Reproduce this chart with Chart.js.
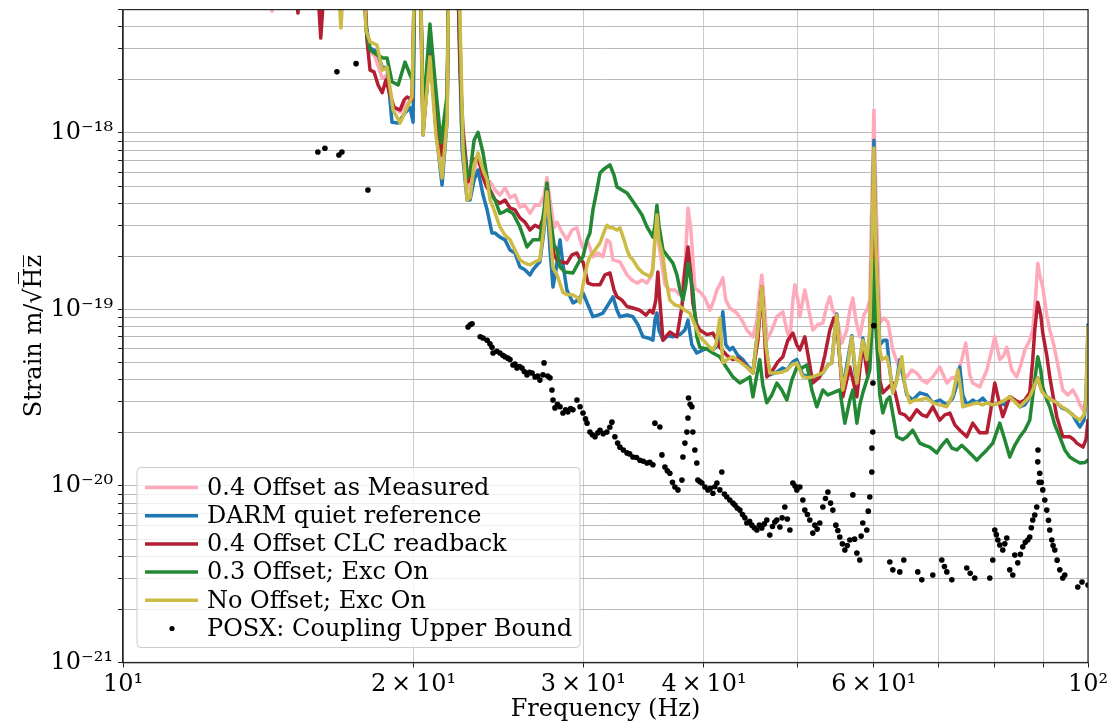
<!DOCTYPE html>
<html>
<head>
<meta charset="utf-8">
<title>POSX coupling upper bound</title>
<script src="https://cdn.jsdelivr.net/npm/chart.js@4.4.1/dist/chart.umd.min.js"></script>
<style>
  html, body { margin: 0; padding: 0; background: #fff; }
  #wrap { width: 1116px; height: 725px; }
</style>
</head>
<body>
<div id="wrap"><canvas id="asdChart" width="1116" height="725"></canvas></div>
<script>
// ASD curves: [frequency Hz, strain m/rtHz]
// values above the top of the plot (1.2e-17) are the parts that run off the chart
const measured04 = [
  [10,1.2e-17],[14.07,1.2e-17],[14.27,4.9e-18],[14.47,1.2e-17],[17.69,1.2e-17],
  [17.94,3.0e-18],[18.25,2.7e-18],[18.56,2.05e-18],[18.78,2.13e-18],[19.05,1.44e-18],[19.37,1.31e-18],
  [19.70,1.48e-18],[19.93,1.54e-18],[20.08,1.2e-17],[20.27,1.2e-17],[20.46,1.01e-18],[20.80,2.77e-18],
  [21.10,1.18e-18],[21.41,6.3e-19],[21.67,1.35e-18],[21.77,1.2e-17],[22.19,1.2e-17],[22.40,1.18e-18],
  [22.78,4.8e-19],[23.33,7.2e-19],[23.84,5.2e-19],[24.01,5.3e-19],[24.30,4.75e-19],[24.58,4.45e-19],
  [24.88,4.9e-19],[25.18,4.3e-19],[25.48,4.45e-19],[25.78,3.8e-19],[26.09,3.9e-19],[26.41,3.5e-19],
  [26.73,3.9e-19],[27.04,3.9e-19],[27.31,4.45e-19],[27.50,5.6e-19],[27.70,4.17e-19],[27.97,2.9e-19],
  [28.17,3.13e-19],[28.50,2.75e-19],[28.84,2.48e-19],[29.19,2.82e-19],[29.54,2.9e-19],[29.76,2.48e-19],
  [29.97,2.23e-19],[30.33,2.41e-19],[30.69,1.99e-19],[31.06,2.09e-19],[31.43,1.99e-19],[31.73,2.48e-19],
  [31.96,2.41e-19],[32.19,1.91e-19],[32.73,1.86e-19],[33.29,1.57e-19],[33.68,1.47e-19],[34.08,1.41e-19],
  [34.50,1.47e-19],[34.91,1.41e-19],[35.33,1.57e-19],[35.58,2.48e-19],[35.75,3.43e-19],[35.92,2.32e-19],
  [36.44,1.38e-19],[36.87,1.29e-19],[37.32,1.29e-19],[37.77,1.21e-19],[38.22,1.68e-19],[38.50,3.76e-19],
  [38.77,2.82e-19],[39.14,1.32e-19],[39.61,1.26e-19],[40.09,1.16e-19],[40.57,9.9e-20],[40.96,1.13e-19],
  [41.25,1.29e-19],[41.54,1.38e-19],[41.84,1.51e-19],[42.14,1.13e-19],[42.54,1.02e-19],[43.26,9.55e-20],
  [43.78,8.7e-20],[44.31,7.65e-20],[44.95,7.0e-20],[45.38,8.7e-20],[45.70,1.29e-19],[45.92,1.57e-19],
  [46.25,9.9e-20],[46.47,6.7e-20],[47.03,7.65e-20],[47.59,9.1e-20],[48.28,9.7e-20],[48.74,7.65e-20],
  [49.10,6.7e-20],[49.45,1.13e-19],[49.69,1.38e-19],[50.04,1.13e-19],[50.28,9.1e-20],[50.64,1.13e-19],
  [50.88,1.29e-19],[51.25,1.06e-19],[51.86,7.65e-20],[52.48,8.2e-20],[53.12,8.4e-20],[53.63,1.06e-19],
  [54.01,1.18e-19],[54.40,9.9e-20],[54.92,9.1e-20],[55.58,6.45e-20],[56.24,7.65e-20],[56.65,9.9e-20],
  [57.06,1.16e-19],[57.47,8.7e-20],[58.01,7.0e-20],[58.57,9.3e-20],[58.99,9.9e-20],[59.41,1.13e-19],
  [59.70,4.17e-19],[60.00,1.35e-18],[60.30,4.17e-19],[60.85,8.4e-20],[61.44,8.95e-20],[62.03,8.5e-20],
  [62.77,5.9e-20],[63.82,4.54e-20],[64.90,4.15e-20],[65.67,4.54e-20],[66.46,4.37e-20],[67.26,3.98e-20],
  [68.07,3.83e-20],[69.05,4.15e-20],[70.21,4.72e-20],[71.40,3.83e-20],[72.26,4.1e-20],[73.13,4.15e-20],
  [73.99,5.2e-20],[74.70,6.45e-20],[75.42,4.26e-20],[75.96,3.83e-20],[77.24,3.64e-20],[78.55,4.54e-20],
  [79.49,5.9e-20],[80.06,7.0e-20],[81.02,5.2e-20],[81.80,5.5e-20],[82.38,6.1e-20],[83.37,4.54e-20],
  [84.37,4.15e-20],[85.18,4.85e-20],[86.00,5.9e-20],[87.02,6.7e-20],[87.65,7.65e-20],[88.28,1.21e-19],
  [88.70,1.83e-19],[89.12,1.57e-19],[89.77,1.34e-19],[90.63,9.3e-20],[91.28,7.65e-20],[92.16,6.3e-20],
  [92.82,5.2e-20],[94.16,3.5e-20],[95.29,3.28e-20],[96.43,3.5e-20],[97.36,3.2e-20],[98.11,2.88e-20],
  [98.82,2.7e-20],[99.52,3.07e-20],[100,3.28e-20]
];

const darmQuiet = [
  [10,1.2e-17],[17.69,1.2e-17],[17.86,4.09e-18],[18.03,3.03e-18],[18.33,2.88e-18],[18.56,2.36e-18],
  [18.78,2.34e-18],[19.00,1.15e-18],[19.28,1.14e-18],[19.60,1.30e-18],[19.84,1.39e-18],[19.98,1.15e-18],
  [20.08,1.2e-17],[20.31,1.2e-17],[20.46,9.74e-19],[20.80,3.03e-18],[21.10,1.04e-18],[21.41,5.07e-19],
  [21.67,1.18e-18],[21.77,1.2e-17],[22.19,1.2e-17],[22.35,2.59e-18],[22.46,8.0e-19],[22.73,4.17e-19],
  [22.89,4.17e-19],[23.11,5.41e-19],[23.33,6.17e-19],[23.61,4.45e-19],[23.84,3.67e-19],[24.12,2.71e-19],
  [24.30,2.71e-19],[24.58,2.57e-19],[24.88,2.48e-19],[25.18,2.17e-19],[25.48,2.09e-19],[25.78,1.74e-19],
  [26.09,1.68e-19],[26.41,1.57e-19],[26.60,1.68e-19],[26.86,1.79e-19],[27.04,1.86e-19],[27.31,2.82e-19],
  [27.50,4.3e-19],[27.70,2.17e-19],[27.90,1.34e-19],[28.10,1.68e-19],[28.37,2.48e-19],[28.57,1.79e-19],
  [28.84,1.29e-19],[29.26,1.09e-19],[29.61,1.13e-19],[29.97,1.24e-19],[30.33,1.06e-19],[30.69,9.1e-20],
  [31.06,9.3e-20],[31.43,9.55e-20],[31.81,1.06e-19],[32.19,1.18e-19],[32.50,9.9e-20],[32.73,9.1e-20],
  [33.29,9.3e-20],[33.76,9.1e-20],[34.17,8.2e-20],[34.58,7.0e-20],[34.99,6.9e-20],[35.41,6.7e-20],
  [35.58,8.7e-20],[35.75,9.55e-20],[35.92,7.65e-20],[36.27,6.7e-20],[36.71,7.1e-20],[37.14,7.0e-20],
  [37.77,7.2e-20],[38.22,7.65e-20],[38.50,8.7e-20],[38.86,6.3e-20],[39.32,5.67e-20],[39.90,5.9e-20],
  [40.38,6.0e-20],[40.86,5.9e-20],[41.35,6.3e-20],[41.54,6.7e-20],[41.84,9.7e-20],[42.14,6.3e-20],
  [42.54,5.9e-20],[42.85,6.1e-20],[43.36,5.5e-20],[43.89,5.2e-20],[44.31,4.85e-20],[44.95,4.42e-20],
  [45.49,7.65e-20],[45.92,1.32e-19],[46.36,6.3e-20],[46.80,4.26e-20],[47.59,4.42e-20],[48.28,4.66e-20],
  [48.74,4.54e-20],[49.45,5.05e-20],[49.92,5.2e-20],[50.64,4.26e-20],[51.49,4.15e-20],[52.36,4.1e-20],
  [53.12,4.37e-20],[53.76,4.85e-20],[54.27,4.98e-20],[54.66,7.65e-20],[54.92,9.43e-20],[55.31,5.2e-20],
  [55.71,3.6e-20],[56.38,5.2e-20],[56.92,7.1e-20],[57.33,4.54e-20],[57.61,3.83e-20],[58.01,4.85e-20],
  [58.43,6.9e-20],[58.99,5.2e-20],[59.41,6.7e-20],[59.70,2.17e-19],[60.00,9.1e-19],[60.30,2.17e-19],
  [60.85,6.3e-20],[61.44,6.7e-20],[61.88,6.7e-20],[62.32,4.54e-20],[62.77,3.37e-20],[63.37,3.98e-20],
  [63.82,5.2e-20],[64.28,4.26e-20],[64.90,3.28e-20],[65.83,3.07e-20],[66.94,3.37e-20],[68.07,3.28e-20],
  [69.05,2.96e-20],[70.21,3.07e-20],[71.40,2.88e-20],[72.43,3.15e-20],[73.13,3.73e-20],[73.64,4.72e-20],
  [74.17,3.28e-20],[74.88,2.88e-20],[75.96,3.07e-20],[76.69,2.96e-20],[77.80,3.15e-20],[78.55,2.96e-20],
  [79.68,2.88e-20],[81.02,2.96e-20],[81.99,2.88e-20],[82.97,3.2e-20],[83.97,3.07e-20],[84.98,2.81e-20],
  [86.00,2.88e-20],[87.02,3.2e-20],[88.07,3.73e-20],[88.70,4.1e-20],[89.34,3.6e-20],[90.63,3.2e-20],
  [91.72,3.07e-20],[92.82,2.96e-20],[93.93,2.77e-20],[95.06,2.7e-20],[96.43,2.53e-20],[97.36,2.3e-20],
  [98.11,2.16e-20],[99.06,2.36e-20],[99.52,3.07e-20],[100,8.2e-20]
];

const clcReadback04 = [
  [10,1.2e-17],[14.97,1.2e-17],[15.18,4.78e-18],[15.40,1.2e-17],[15.81,1.2e-17],[16.03,3.45e-18],
  [16.27,1.2e-17],[17.69,1.2e-17],[17.90,3.37e-18],[18.03,2.27e-18],[18.20,2.22e-18],[18.38,1.87e-18],
  [18.56,1.69e-18],[18.73,2.0e-18],[18.91,1.64e-18],[19.10,1.39e-18],[19.37,1.35e-18],[19.56,1.54e-18],
  [19.70,1.60e-18],[19.93,1.54e-18],[20.08,1.2e-17],[20.31,1.2e-17],[20.46,1.04e-18],[20.80,2.77e-18],
  [21.10,1.18e-18],[21.41,7.5e-19],[21.67,1.35e-18],[21.77,1.2e-17],[22.19,1.2e-17],[22.35,2.27e-18],
  [22.51,1.04e-18],[22.78,5.3e-19],[23.05,7.0e-19],[23.33,7.3e-19],[23.61,5.6e-19],[23.84,4.88e-19],
  [24.01,4.75e-19],[24.30,4.17e-19],[24.58,4.0e-19],[24.88,4.17e-19],[25.18,3.76e-19],[25.48,3.67e-19],
  [25.78,3.3e-19],[26.09,3.13e-19],[26.41,2.82e-19],[26.73,3.0e-19],[27.04,2.9e-19],[27.31,3.43e-19],
  [27.50,5.1e-19],[27.70,3.2e-19],[27.97,2.04e-19],[28.17,1.91e-19],[28.50,1.86e-19],[28.84,1.83e-19],
  [29.19,2.04e-19],[29.54,2.09e-19],[29.76,1.91e-19],[29.97,1.86e-19],[30.33,1.41e-19],[30.69,1.38e-19],
  [31.21,1.38e-19],[31.58,1.57e-19],[31.96,1.61e-19],[32.27,1.29e-19],[32.50,1.18e-19],[32.89,1.13e-19],
  [33.29,1.04e-19],[33.76,1.02e-19],[34.33,9.9e-20],[34.83,9.3e-20],[35.16,9.9e-20],[35.41,9.55e-20],
  [35.66,1.13e-19],[35.83,1.63e-19],[36.00,1.13e-19],[36.27,6.7e-20],[36.87,7.45e-20],[37.50,7.0e-20],
  [37.95,1.04e-19],[38.22,1.68e-19],[38.50,2.26e-19],[38.77,1.57e-19],[38.95,1.09e-19],[39.32,8.2e-20],
  [39.61,7.65e-20],[40.28,7.2e-20],[40.86,7.35e-20],[41.25,6.7e-20],[41.54,6.1e-20],[42.24,5.5e-20],
  [42.85,5.2e-20],[43.36,5.3e-20],[43.89,4.98e-20],[44.42,4.66e-20],[44.95,4.37e-20],[45.49,6.7e-20],
  [45.92,1.34e-19],[46.25,6.7e-20],[46.47,4.15e-20],[47.14,4.54e-20],[47.71,5.05e-20],[48.28,5.4e-20],
  [48.86,6.7e-20],[49.45,7.35e-20],[49.92,6.3e-20],[50.28,5.9e-20],[50.88,7.0e-20],[51.37,5.2e-20],
  [51.86,3.83e-20],[52.73,4.15e-20],[53.37,5.5e-20],[54.01,7.65e-20],[54.53,8.95e-20],[54.92,8.2e-20],
  [55.31,5.2e-20],[55.71,3.2e-20],[56.65,4.72e-20],[57.61,3.2e-20],[58.01,4.54e-20],[58.43,6.45e-20],
  [59.13,4.15e-20],[59.70,1.29e-19],[60.00,6.2e-19],[60.30,1.29e-19],[60.85,3.98e-20],[61.29,3.37e-20],
  [62.03,3.6e-20],[62.77,3.83e-20],[63.37,3.07e-20],[63.82,2.59e-20],[64.59,2.53e-20],[65.36,2.36e-20],
  [66.46,2.7e-20],[67.26,2.53e-20],[68.07,2.47e-20],[69.05,2.81e-20],[70.21,2.36e-20],[71.06,2.53e-20],
  [71.91,2.59e-20],[72.78,2.22e-20],[73.64,2.07e-20],[74.88,1.9e-20],[75.96,2.27e-20],[77.24,2.0e-20],
  [78.55,2.0e-20],[79.30,2.7e-20],[80.06,3.83e-20],[81.02,2.88e-20],[81.60,2.47e-20],[82.97,3.2e-20],
  [83.97,3.07e-20],[84.98,2.96e-20],[86.00,3.07e-20],[87.02,3.37e-20],[87.65,5.2e-20],[88.07,7.65e-20],
  [88.70,1.1e-19],[89.34,9.3e-20],[89.77,7.35e-20],[90.63,5.5e-20],[91.28,4.15e-20],[92.16,3.07e-20],
  [92.82,2.47e-20],[94.16,1.9e-20],[95.74,1.9e-20],[96.66,1.83e-20],[97.36,1.75e-20],[98.82,1.66e-20],
  [99.52,1.83e-20],[100,2.36e-20]
];

const offset03ExcOn = [
  [10,1.2e-17],[17.69,1.2e-17],[17.86,3.83e-18],[18.03,2.96e-18],[18.33,2.77e-18],[18.60,2.66e-18],
  [18.78,2.66e-18],[19.00,1.95e-18],[19.28,1.87e-18],[19.60,2.52e-18],[19.84,2.13e-18],[19.98,1.95e-18],
  [20.08,1.2e-17],[20.31,1.2e-17],[20.46,1.26e-18],[20.80,4.14e-18],[21.10,1.75e-18],[21.36,8.78e-19],
  [21.67,1.64e-18],[21.77,1.2e-17],[22.24,1.2e-17],[22.35,3.37e-18],[22.46,1.04e-18],[22.73,5.6e-19],
  [22.89,5.93e-19],[23.11,9.1e-19],[23.33,1.01e-18],[23.61,7.7e-19],[23.84,5.6e-19],[24.01,4.57e-19],
  [24.30,4.17e-19],[24.58,3.5e-19],[24.82,3.57e-19],[25.00,3.67e-19],[25.36,3.5e-19],[25.78,2.94e-19],
  [26.22,2.26e-19],[26.60,2.48e-19],[27.04,2.48e-19],[27.31,3.67e-19],[27.50,5.21e-19],[27.70,3.43e-19],
  [27.97,2.32e-19],[28.17,2.17e-19],[28.37,1.74e-19],[28.71,1.63e-19],[29.26,1.61e-19],[29.76,1.91e-19],
  [29.97,1.99e-19],[30.26,2.48e-19],[30.47,2.71e-19],[30.69,3.67e-19],[30.98,4.75e-19],[31.21,5.93e-19],
  [31.43,6.17e-19],[31.73,6.42e-19],[31.96,6.6e-19],[32.27,5.78e-19],[32.50,4.94e-19],[32.89,4.75e-19],
  [33.29,4.57e-19],[33.68,4.17e-19],[34.08,3.8e-19],[34.50,3.43e-19],[34.91,2.94e-19],[35.16,2.75e-19],
  [35.41,2.57e-19],[35.58,3.0e-19],[35.75,3.9e-19],[35.92,3.0e-19],[36.27,2.17e-19],[36.71,1.99e-19],
  [37.14,1.83e-19],[37.50,1.57e-19],[37.77,1.29e-19],[38.04,1.13e-19],[38.31,1.38e-19],[38.50,1.83e-19],
  [38.77,1.47e-19],[38.95,1.29e-19],[39.32,7.0e-20],[39.61,6.1e-20],[40.28,5.97e-20],[40.86,5.67e-20],
  [41.54,5.4e-20],[42.04,4.85e-20],[42.85,4.15e-20],[43.58,3.83e-20],[44.10,3.98e-20],[44.63,4.15e-20],
  [44.95,3.2e-20],[45.38,4.26e-20],[45.70,5.2e-20],[46.03,3.73e-20],[46.47,2.96e-20],[47.03,3.28e-20],
  [47.59,3.83e-20],[48.16,3.5e-20],[48.74,3.07e-20],[49.33,3.98e-20],[49.92,4.72e-20],[50.52,4.66e-20],
  [51.13,4.85e-20],[51.74,3.5e-20],[52.36,2.81e-20],[53.12,3.5e-20],[53.76,3.28e-20],[54.40,3.37e-20],
  [55.31,3.5e-20],[55.98,2.27e-20],[56.65,3.07e-20],[57.06,3.5e-20],[57.61,2.27e-20],[58.01,2.88e-20],
  [58.43,3.37e-20],[58.99,3.98e-20],[59.41,4.54e-20],[59.70,7.65e-20],[60.00,1.91e-19],[60.30,7.65e-20],
  [60.85,3.28e-20],[61.29,2.59e-20],[61.88,3.07e-20],[62.32,3.2e-20],[63.37,1.9e-20],[64.28,1.83e-20],
  [64.90,1.9e-20],[65.83,2.07e-20],[66.94,1.75e-20],[67.74,1.7e-20],[68.56,1.66e-20],[69.71,1.54e-20],
  [70.55,1.7e-20],[71.40,1.83e-20],[72.26,1.64e-20],[73.13,1.6e-20],[73.99,1.7e-20],[74.88,1.6e-20],
  [75.78,1.5e-20],[76.69,1.4e-20],[77.61,1.5e-20],[78.55,1.6e-20],[79.68,1.75e-20],[81.02,2.27e-20],
  [81.99,1.83e-20],[82.97,1.46e-20],[83.97,1.7e-20],[84.98,1.9e-20],[86.00,2.07e-20],[87.02,2.36e-20],
  [88.07,3.98e-20],[88.70,5.4e-20],[89.34,4.54e-20],[89.77,3.64e-20],[90.63,3.07e-20],[91.28,2.81e-20],
  [92.38,2.22e-20],[93.49,1.9e-20],[94.61,1.6e-20],[95.74,1.46e-20],[96.89,1.4e-20],[98.11,1.35e-20],
  [99.29,1.36e-20],[100,1.4e-20]
];

const noOffsetExcOn = [
  [10,1.2e-17],[16.62,1.2e-17],[16.82,3.94e-18],[17.02,1.2e-17],[17.69,1.2e-17],[17.86,3.83e-18],
  [18.03,3.28e-18],[18.33,3.15e-18],[18.56,2.27e-18],[18.78,2.36e-18],[19.05,1.35e-18],[19.37,1.14e-18],
  [19.70,1.40e-18],[19.93,1.60e-18],[20.08,1.2e-17],[20.31,1.2e-17],[20.46,9.74e-19],[20.80,2.70e-18],
  [21.10,9.74e-19],[21.41,5.56e-19],[21.67,1.18e-18],[21.77,1.2e-17],[22.24,1.2e-17],[22.40,2.59e-18],
  [22.51,8.0e-19],[22.73,4.17e-19],[22.89,4.3e-19],[23.11,6.6e-19],[23.33,7.7e-19],[23.61,6.17e-19],
  [23.84,5.41e-19],[24.01,4.17e-19],[24.18,3.8e-19],[24.58,2.94e-19],[24.88,2.64e-19],[25.18,2.48e-19],
  [25.48,2.17e-19],[25.78,1.91e-19],[26.09,1.83e-19],[26.41,1.79e-19],[26.73,1.86e-19],[27.04,1.91e-19],
  [27.31,3.0e-19],[27.50,4.63e-19],[27.70,2.82e-19],[27.90,1.72e-19],[28.17,1.57e-19],[28.57,1.25e-19],
  [28.91,1.21e-19],[29.26,1.21e-19],[29.61,1.16e-19],[29.76,1.09e-19],[29.97,1.38e-19],[30.26,1.79e-19],
  [30.47,1.99e-19],[30.84,2.17e-19],[31.21,2.38e-19],[31.51,2.75e-19],[31.73,3.0e-19],[31.96,2.9e-19],
  [32.19,2.9e-19],[32.50,2.82e-19],[32.73,2.9e-19],[33.05,2.48e-19],[33.29,2.17e-19],[33.52,1.99e-19],
  [33.76,1.91e-19],[34.17,1.72e-19],[34.58,1.61e-19],[34.91,1.57e-19],[35.16,1.53e-19],[35.41,1.68e-19],
  [35.58,2.48e-19],[35.75,3.43e-19],[35.92,2.48e-19],[36.27,1.99e-19],[36.53,1.47e-19],[36.87,1.13e-19],
  [37.32,1.06e-19],[37.77,1.04e-19],[38.22,9.9e-20],[38.67,9.55e-20],[39.14,8.2e-20],[39.61,7.0e-20],
  [40.09,6.55e-20],[40.57,6.1e-20],[40.86,5.9e-20],[41.15,6.3e-20],[41.54,8.95e-20],[41.84,4.98e-20],
  [42.24,5.2e-20],[42.85,5.4e-20],[43.58,5.05e-20],[44.31,4.72e-20],[44.95,4.37e-20],[45.49,7.65e-20],
  [45.92,1.34e-19],[46.36,6.3e-20],[46.80,4.37e-20],[47.59,4.37e-20],[48.28,4.42e-20],[48.74,4.54e-20],
  [49.33,4.85e-20],[49.92,4.98e-20],[50.64,4.15e-20],[51.25,4.1e-20],[51.86,4.15e-20],[52.48,4.26e-20],
  [53.12,4.37e-20],[53.76,4.85e-20],[54.27,4.98e-20],[54.66,7.65e-20],[54.92,9.3e-20],[55.31,5.2e-20],
  [55.71,3.5e-20],[56.38,4.85e-20],[56.92,7.0e-20],[57.33,4.85e-20],[57.61,3.83e-20],[58.01,5.2e-20],
  [58.43,6.7e-20],[58.99,5.2e-20],[59.41,7.65e-20],[59.70,2.17e-19],[60.00,8.22e-19],[60.30,2.17e-19],
  [60.85,5.9e-20],[61.14,5.2e-20],[61.88,5.4e-20],[62.32,4.54e-20],[62.77,3.37e-20],[63.37,3.98e-20],
  [64.13,5.4e-20],[64.59,3.73e-20],[65.36,2.96e-20],[66.15,3.07e-20],[66.94,3.07e-20],[68.07,3.15e-20],
  [69.05,2.96e-20],[70.21,2.88e-20],[71.40,2.81e-20],[72.43,3.28e-20],[72.95,3.98e-20],[73.30,4.54e-20],
  [73.82,3.5e-20],[74.17,2.81e-20],[75.42,2.88e-20],[76.69,2.96e-20],[77.80,2.88e-20],[78.55,2.96e-20],
  [79.68,2.88e-20],[81.02,2.96e-20],[81.99,3.07e-20],[82.97,3.2e-20],[83.97,3.0e-20],[84.98,2.81e-20],
  [86.00,3.0e-20],[87.02,3.2e-20],[88.07,3.73e-20],[88.70,4.1e-20],[89.55,3.43e-20],[90.63,3.2e-20],
  [91.72,3.07e-20],[92.82,2.96e-20],[93.93,2.81e-20],[95.06,2.7e-20],[96.43,2.53e-20],[97.36,2.43e-20],
  [98.11,2.36e-20],[99.06,2.53e-20],[99.52,3.07e-20],[100,7.95e-20]
];

// POSX coupling upper bound, scattered points
const posxBound = [
  [15.92,7.8e-19],[16.19,8.2e-19],[16.66,2.22e-18],[16.74,7.5e-19],[16.86,7.8e-19],[17.44,2.47e-18],[17.94,4.75e-19],
  [22.78,7.95e-20],[22.9,8.2e-20],[23.0,8.3e-20],[23.45,7.0e-20],[23.61,6.9e-20],[23.84,6.7e-20],[24.0,6.4e-20],
  [24.12,6.1e-20],[24.18,5.67e-20],[24.4,5.8e-20],[24.58,5.67e-20],[24.75,5.5e-20],[24.88,5.4e-20],[25.05,5.3e-20],
  [25.18,5.2e-20],[25.36,4.85e-20],[25.48,4.9e-20],[25.60,4.66e-20],[25.75,4.75e-20],[25.91,4.66e-20],[26.05,4.45e-20],
  [26.22,4.26e-20],[26.38,4.4e-20],[26.54,4.37e-20],[26.73,4.15e-20],[26.9,4.2e-20],[27.04,3.98e-20],[27.24,4.26e-20],
  [27.31,4.98e-20],[27.55,4.2e-20],[27.70,4.1e-20],[27.83,3.5e-20],[27.90,3.07e-20],[28.03,2.77e-20],[28.2,2.9e-20],
  [28.37,2.81e-20],[28.57,2.59e-20],[28.75,2.7e-20],[28.91,2.63e-20],[29.1,2.75e-20],[29.26,2.7e-20],[29.54,3.07e-20],
  [29.76,2.81e-20],[29.97,2.59e-20],[30.15,2.4e-20],[30.26,2.27e-20],[30.47,2.02e-20],[30.65,1.95e-20],[30.84,1.9e-20],
  [31.05,2.0e-20],[31.21,2.07e-20],[31.45,1.98e-20],[31.73,2.02e-20],[31.95,2.15e-20],[32.11,2.3e-20],[32.34,1.9e-20],
  [32.55,1.75e-20],[32.73,1.66e-20],[33.0,1.6e-20],[33.29,1.54e-20],[33.5,1.52e-20],[33.76,1.46e-20],[34.05,1.45e-20],
  [34.33,1.4e-20],[34.6,1.38e-20],[34.91,1.35e-20],[35.15,1.36e-20],[35.41,1.32e-20],[35.58,2.27e-20],[36.00,2.16e-20],
  [36.18,1.5e-20],[36.44,1.28e-20],[36.65,1.22e-20],[36.87,1.18e-20],[37.1,1.05e-20],[37.32,9.87e-21],[37.59,9.5e-21],
  [37.95,1.08e-20],[38.04,1.46e-20],[38.22,1.75e-20],[38.40,2.02e-20],[38.50,2.43e-20],[38.55,3.15e-20],[38.7,2.9e-20],
  [38.86,2.81e-20],[38.95,2.02e-20],[39.14,1.6e-20],[39.32,1.35e-20],[39.42,1.08e-20],[39.6,1.06e-20],[39.80,1.04e-20],
  [40.09,9.87e-21],[40.38,9.5e-21],[40.6,9.7e-21],[40.86,9.1e-21],[41.05,9.9e-21],[41.25,1.04e-20],[41.54,9.5e-21],
  [41.74,1.2e-20],[42.0,9.0e-21],[42.24,8.66e-21],[42.54,8.33e-21],[42.85,8.0e-21],[43.06,7.8e-21],[43.3,7.5e-21],
  [43.58,7.3e-21],[43.85,6.9e-21],[44.10,6.6e-21],[44.31,6.17e-21],[44.6,6.3e-21],[44.84,6.0e-21],[45.1,5.8e-21],
  [45.38,5.63e-21],[45.65,6.0e-21],[45.92,5.78e-21],[46.2,6.1e-21],[46.47,6.42e-21],[46.80,5.27e-21],[47.1,5.9e-21],
  [47.37,6.25e-21],[47.59,6.42e-21],[47.94,5.86e-21],[48.2,6.6e-21],[48.51,7.6e-21],[48.8,6.5e-21],[49.10,5.63e-21],
  [49.45,1.04e-20],[49.7,1.0e-20],[49.92,9.5e-21],[50.28,9.87e-21],[50.64,8.33e-21],[50.88,7.3e-21],[51.2,6.9e-21],
  [51.49,6.42e-21],[51.86,5.41e-21],[52.11,6.0e-21],[52.4,5.7e-21],[52.73,6.17e-21],[53.12,7.6e-21],[53.45,8.5e-21],
  [53.76,9.25e-21],[54.1,8.0e-21],[54.40,7.3e-21],[54.79,6.0e-21],[55.05,5.6e-21],[55.31,5.14e-21],[55.65,4.7e-21],
  [55.98,4.34e-21],[56.3,4.6e-21],[56.65,4.94e-21],[57.06,8.9e-21],[57.3,5.0e-21],[57.61,4.17e-21],[58.01,3.81e-21],
  [58.2,5.2e-21],[58.43,6.17e-21],[58.99,5.63e-21],[59.2,7.2e-21],[59.41,8.66e-21],[59.70,1.2e-20],[59.72,1.64e-20],
  [59.84,2.02e-20],[59.86,3.83e-20],[59.98,8.1e-20],
  [62.32,3.71e-21],[62.77,3.35e-21],[63.82,3.26e-21],[64.43,3.81e-21],[66.62,3.26e-21],[67.26,2.94e-21],[69.05,3.13e-21],
  [70.55,3.81e-21],[71.0,3.5e-21],[71.40,3.26e-21],[72.26,2.94e-21],[74.88,3.43e-21],[75.5,3.2e-21],[76.32,3.01e-21],
  [79.11,3.01e-21],[79.68,3.81e-21],[80.06,5.63e-21],[80.35,5.3e-21],[80.64,4.94e-21],[81.02,4.63e-21],[81.60,4.34e-21],
  [82.0,4.7e-21],[82.38,5.07e-21],[82.97,3.35e-21],[83.57,3.13e-21],[83.97,4.06e-21],[84.57,3.67e-21],[85.1,4.1e-21],
  [85.59,4.52e-21],[86.1,4.8e-21],[86.61,4.94e-21],[87.02,5.14e-21],[87.35,5.8e-21],[87.65,6.42e-21],[88.07,6.85e-21],
  [88.49,7.6e-21],[88.70,1.37e-20],[88.75,1.6e-20],[89.0,1.05e-20],[89.12,1.18e-20],[89.45,1.05e-20],[89.77,9.5e-21],
  [90.20,8.33e-21],[90.63,7.3e-21],[91.0,6.4e-21],[91.28,5.63e-21],[91.72,4.94e-21],[92.0,4.6e-21],[92.38,4.34e-21],
  [92.9,3.8e-21],[93.49,3.35e-21],[94.16,3.01e-21],[94.61,3.13e-21],[97.59,2.68e-21],[98.58,2.86e-21],[100,2.75e-21]
];

const seriesLabels = [
  '0.4 Offset as Measured',
  'DARM quiet reference',
  '0.4 Offset CLC readback',
  '0.3 Offset; Exc On',
  'No Offset; Exc On',
  'POSX: Coupling Upper Bound'
];
const seriesColors = ['#ffaabb', '#1f77b4', '#b41e32', '#228833', '#ccbb44', '#000000'];

// axis labels (only these ticks carry text, the rest are grid-only)
const xTickValues = [10, 20, 30, 40, 60, 100];
const xTickText = ['10\u00b9', '2\u2009\u00d7\u200910\u00b9', '3\u2009\u00d7\u200910\u00b9', '4\u2009\u00d7\u200910\u00b9', '6\u2009\u00d7\u200910\u00b9', '10\u00b2'];
const yTickValues = [1e-21, 1e-20, 1e-19, 1e-18];
const yTickText = ['10\u207b\u00b2\u00b9', '10\u207b\u00b2\u2070', '10\u207b\u00b9\u2079', '10\u207b\u00b9\u2078'];

const FONT = "'DejaVu Serif', serif";
Chart.defaults.font.family = FONT;
Chart.defaults.color = '#000';

function toXY(pts) {
    return pts.map(p => ({ x: p[0], y: p[1] }));
}

function findLabel(value, values, texts) {
    for (let i = 0; i < values.length; i++) {
        if (Math.abs(Math.log10(value / values[i])) < 1e-6) return texts[i];
    }
    return '';
}

// top/right spines plus the boxed legend in the lower left corner
const frameAndLegend = {
    id: 'frameAndLegend',
    afterDraw(chart) {
        const { ctx, chartArea: a } = chart;
        ctx.save();
        ctx.strokeStyle = '#262626';
        ctx.lineWidth = 1.2;
        ctx.strokeRect(a.left, a.top, a.right - a.left, a.bottom - a.top);

        const bx = a.left + 14, bw = 443, bh = 180;
        const by = a.bottom - 15 - bh;
        ctx.beginPath();
        ctx.roundRect(bx, by, bw, bh, 4);
        ctx.fillStyle = 'rgba(255,255,255,0.8)';
        ctx.fill();
        ctx.strokeStyle = '#cccccc';
        ctx.lineWidth = 1;
        ctx.stroke();

        ctx.font = '24px ' + FONT;
        ctx.textBaseline = 'middle';
        ctx.textAlign = 'left';
        chart.data.datasets.forEach((ds, i) => {
            const y = by + 20 + i * 28.2;
            if (ds.showLine === false) {
                ctx.beginPath();
                ctx.arc(bx + 35, y, 2.6, 0, Math.PI * 2);
                ctx.fillStyle = ds.backgroundColor;
                ctx.fill();
            } else {
                ctx.beginPath();
                ctx.moveTo(bx + 8, y);
                ctx.lineTo(bx + 61, y);
                ctx.strokeStyle = ds.borderColor;
                ctx.lineWidth = 3.5;
                ctx.stroke();
            }
            ctx.fillStyle = '#000';
            ctx.fillText(ds.label, bx + 70, y + 1);
        });
        ctx.restore();
    }
};

const curves = [measured04, darmQuiet, clcReadback04, offset03ExcOn, noOffsetExcOn];
const datasets = curves.map((pts, i) => ({
    label: seriesLabels[i],
    data: toXY(pts),
    borderColor: seriesColors[i],
    backgroundColor: seriesColors[i],
    borderWidth: 3.5,
    borderJoinStyle: 'round',
    borderCapStyle: 'round',
    pointRadius: 0,
    fill: false,
    tension: 0,
    order: curves.length - i   // later series are drawn on top
}));
datasets.push({
    type: 'scatter',
    label: seriesLabels[5],
    data: toXY(posxBound),
    showLine: false,
    backgroundColor: seriesColors[5],
    borderWidth: 0,
    pointRadius: 2.8,
    order: 0
});

new Chart(document.getElementById('asdChart'), {
    type: 'line',
    data: { datasets: datasets },
    options: {
        responsive: false,
        animation: false,
        devicePixelRatio: 1,
        layout: { padding: { top: 9.6, right: 28, bottom: 0, left: 0 } },
        plugins: {
            legend: { display: false },
            tooltip: { enabled: false }
        },
        scales: {
            x: {
                type: 'logarithmic',
                min: 10,
                max: 100,
                afterBuildTicks: scale => {
                    const t = [];
                    for (let f = 10; f <= 100; f += 10) t.push({ value: f });
                    scale.ticks = t;
                },
                afterFit: scale => {
                    scale.height = 62.5;
                    scale.paddingLeft = 0;
                    scale.paddingRight = 0;
                },
                ticks: {
                    autoSkip: false,
                    maxRotation: 0,
                    minRotation: 0,
                    padding: 3,
                    font: { size: 24 },
                    callback: value => findLabel(value, xTickValues, xTickText)
                },
                grid: { color: '#cccccc', lineWidth: 1, tickLength: 5, tickColor: '#222' },
                border: { color: '#262626', width: 1.2 },
                title: {
                    display: true,
                    text: 'Frequency (Hz)',
                    font: { size: 24 },
                    padding: { top: 0, bottom: 1 }
                }
            },
            y: {
                type: 'logarithmic',
                min: 1e-21,
                max: 5e-18,
                afterBuildTicks: scale => {
                    const t = [];
                    for (let e = -21; e <= -18; e++) {
                        for (let m = 1; m <= 9; m++) {
                            const v = m * Math.pow(10, e);
                            if (v <= 5.0001e-18) t.push({ value: v });
                        }
                    }
                    scale.ticks = t;
                },
                afterFit: scale => {
                    scale.width = 123;
                    scale.paddingTop = 0;
                    scale.paddingBottom = 0;
                },
                ticks: {
                    autoSkip: false,
                    padding: 5,
                    font: { size: 24 },
                    callback: value => findLabel(value, yTickValues, yTickText)
                },
                grid: { color: '#bababa', lineWidth: 1, tickLength: 5, tickColor: '#222' },
                border: { color: '#262626', width: 1.2 },
                title: {
                    display: true,
                    text: 'Strain m/\u221aH\u0305z\u0305',
                    font: { size: 24 },
                    padding: { top: 20, bottom: 0 }
                }
            }
        }
    },
    plugins: [frameAndLegend]
});
</script>
</body>
</html>
